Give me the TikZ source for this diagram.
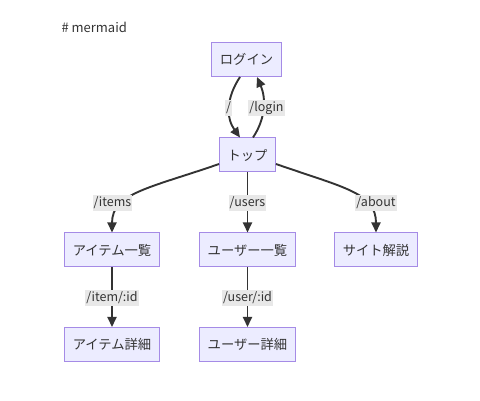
\documentclass[tikz,border=0pt]{standalone}
\usepackage{fontspec}
\setmainfont{Noto Sans CJK JP}
\usetikzlibrary{arrows.meta}
\definecolor{boxfill}{HTML}{ECECFF}
\definecolor{boxline}{HTML}{A58BE6}
\definecolor{ink}{HTML}{333333}
\definecolor{lblfill}{HTML}{E8E8E8}

\begin{document}
\begin{tikzpicture}[x=1pt,y=-1pt,
  page/.style={draw=boxline,line width=1pt,fill=boxfill,text=ink,inner xsep=8pt,minimum height=34pt,font=\fontsize{13.3}{15}\selectfont},
  route/.style={fill=lblfill,text=ink,inner xsep=1pt,inner ysep=1.5pt,font=\fontsize{12.5}{14}\selectfont},
  link/.style={draw=ink,line width=1.9pt,-{Triangle[length=10pt,width=9pt]}}]
\useasboundingbox (0,0) rectangle (480,401);
\node[anchor=west,text=ink,font=\fontsize{13}{15}\selectfont] (title) at (58,27) {\# mermaid};
% pages
\node[page] (login) at (246.5,59.5) {ログイン};
\node[page] (top) at (247.5,155) {トップ};
\node[page] (items) at (112,250) {アイテム一覧};
\node[page] (users) at (247.5,250) {ユーザー一覧};
\node[page] (about) at (376,250) {サイト解説};
\node[page] (item) at (112,344.5) {アイテム詳細};
\node[page] (user) at (247.5,344.5) {ユーザー詳細};
% links
\draw[link] ([xshift=-6.5pt]login.south) .. controls (226,98) and (226,118) .. ([xshift=-7.5pt]top.north);
\draw[link] ([xshift=5.5pt]top.north) .. controls (266,118) and (266,98) .. ([xshift=10.5pt]login.south);
\draw[link] ([yshift=-9pt]top.west) .. controls (150,188) and (112,193) .. (items.north);
\draw[link] (top.south) -- (users.north);
\draw[link] ([yshift=-9pt]top.east) .. controls (345,188) and (376,193) .. (about.north);
\draw[link] (items.south) -- (item.north);
\draw[link] (users.south) -- (user.north);
% route labels
\node[route] (r-home) at (228.5,108) {/};
\node[route] (r-login) at (266.5,108) {/login};
\node[route] (r-items) at (112.5,203) {/items};
\node[route] (r-users) at (247.5,203) {/users};
\node[route] (r-about) at (376,203) {/about};
\node[route] (r-item) at (112,298) {/item/:id};
\node[route] (r-user) at (247.5,298) {/user/:id};
\end{tikzpicture}
\end{document}
